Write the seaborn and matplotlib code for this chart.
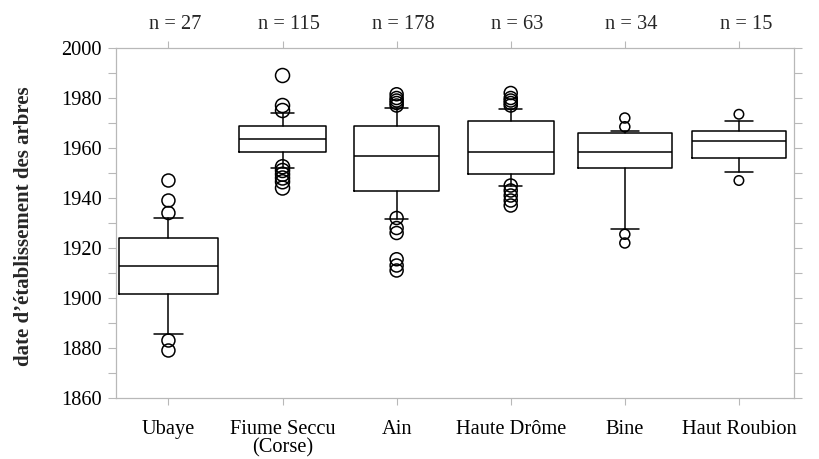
import matplotlib
matplotlib.use("Agg")
import matplotlib.pyplot as plt
import seaborn as sns
import pandas as pd
from matplotlib.ticker import MultipleLocator

# ---- data ----
categories = ["Ubaye", "Fiume Seccu\n(Corse)", "Ain", "Haute Drôme", "Bine", "Haut Roubion"]
n_counts = [27, 115, 178, 63, 34, 15]
q1 = [1901.5, 1958.5, 1943.0, 1949.5, 1952.0, 1956.0]
median = [1913.0, 1963.5, 1957.0, 1958.5, 1958.5, 1963.0]
q3 = [1924.0, 1969.0, 1969.0, 1971.0, 1966.0, 1967.0]
whisker_low = [1885.5, 1952.0, 1931.5, 1945.0, 1927.5, 1950.5]
whisker_high = [1932.0, 1974.0, 1976.0, 1975.5, 1967.0, 1971.0]

outliers_ubaye = [1947.0, 1939.0, 1934.0, 1883.0, 1879.0]
outliers_fiume = [1989.0, 1977.0, 1975.0, 1952.5, 1951.0, 1949.5, 1948.0, 1946.5, 1944.0]
outliers_ain = [1981.5, 1980.0, 1979.0, 1978.0, 1977.0, 1932.0, 1928.0, 1926.0, 1915.5, 1913.0, 1911.0]
outliers_drome = [1982.0, 1980.0, 1979.0, 1978.0, 1977.0, 1945.0, 1943.0, 1941.0, 1939.0, 1937.0]
outliers_bine = [1972.0, 1968.5, 1925.5, 1922.0]
outliers_roubion = [1973.5, 1947.0]
outliers = [outliers_ubaye, outliers_fiume, outliers_ain, outliers_drome,
            outliers_bine, outliers_roubion]

# ---- style ----
box_widths = [0.87, 0.76, 0.75, 0.75, 0.82, 0.82]
cap_widths = [0.25, 0.20, 0.20, 0.20, 0.24, 0.24]
marker_px = [13, 14, 13, 13, 10, 9.5]
fs = 14.7

sns.set_theme(style="white")
plt.rcParams['font.family'] = ['Liberation Serif', 'DejaVu Serif']

fig = plt.figure(figsize=(8.19, 4.59), dpi=100)
ax = fig.add_axes([0.1413, 0.1329, 0.8282, 0.7625])

stats = [dict(label=c, q1=a, med=m, q3=b, whislo=lo, whishi=hi, fliers=[])
         for c, a, m, b, lo, hi in zip(categories, q1, median, q3, whisker_low, whisker_high)]
lp = dict(color="black", linewidth=1.1)
ax.bxp(stats, positions=range(len(categories)), widths=box_widths, capwidths=cap_widths,
       showfliers=False, boxprops=lp, medianprops=lp, whiskerprops=lp, capprops=lp)

for i, vals in enumerate(outliers):
    df = pd.DataFrame({"pos": [i] * len(vals), "year": vals})
    s_pt = (marker_px[i] * 72 / 100) ** 2
    sns.scatterplot(data=df, x="pos", y="year", ax=ax, marker="o", s=s_pt,
                    facecolor="none", edgecolor="black", linewidth=1.1, zorder=3)

ax.set_xlim(-0.462, 5.483)
ax.set_ylim(1860, 2000)
ax.yaxis.set_major_locator(MultipleLocator(20))
ax.yaxis.set_minor_locator(MultipleLocator(10))
ax.set_xticks(range(len(categories)))
ax.set_xticklabels(categories, linespacing=0.9)
ax.set_xlabel("")
ax.set_ylabel("date d’établissement des arbres", fontsize=15, fontweight="bold")
ax.yaxis.set_label_coords(-0.120, 0.49)

grey = "#b8b8b8"
for sp in ax.spines.values():
    sp.set_color(grey)
    sp.set_linewidth(0.9)
ax.tick_params(axis="y", which="both", direction="out", length=6, width=0.8, color=grey,
               left=True, right=True, labelleft=True, labelright=False,
               labelsize=fs, labelcolor="black", pad=4)
ax.tick_params(axis="x", which="major", direction="out", length=5, width=0.8, color=grey,
               bottom=True, top=True, labelsize=fs, labelcolor="black", pad=11)

for i, n in enumerate(n_counts):
    ax.text(i + 0.06, 1.068, f"n = {n}", transform=ax.get_xaxis_transform(),
            ha="center", va="center", fontsize=fs)

fig.savefig("out.png", dpi=100)
